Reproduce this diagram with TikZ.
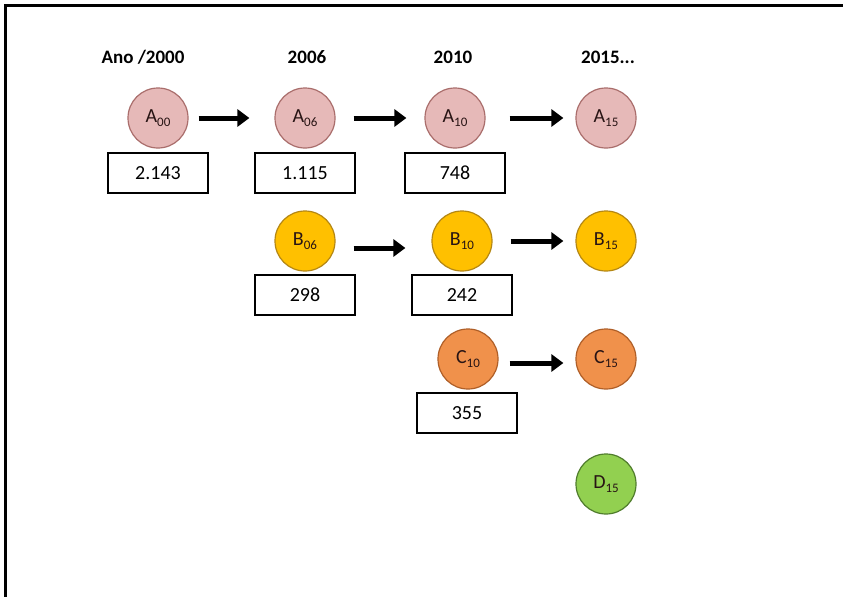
\documentclass[tikz,border=0pt]{standalone}
\usepackage{fontspec}
\setmainfont{Carlito}
\usetikzlibrary{arrows.meta}
\definecolor{pinkf}{RGB}{230,185,184}
\definecolor{pinkd}{RGB}{170,110,108}
\definecolor{goldf}{RGB}{255,192,0}
\definecolor{goldd}{RGB}{180,135,20}
\definecolor{orgf}{RGB}{240,145,75}
\definecolor{orgd}{RGB}{175,95,40}
\definecolor{grnf}{RGB}{146,208,80}
\definecolor{grnd}{RGB}{80,125,45}
\definecolor{txt}{RGB}{40,20,20}
\newcommand{\lbl}[2]{#1\raisebox{-0.22em}{\fontsize{13}{13}\selectfont #2}}
\tikzset{
  circ/.style={circle, minimum size=60pt, inner sep=0pt, line width=1.2pt, font=\fontsize{20}{20}\selectfont, text=txt},
  pk/.style={circ, fill=pinkf, draw=pinkd},
  gd/.style={circ, fill=goldf, draw=goldd},
  og/.style={circ, fill=orgf, draw=orgd},
  gn/.style={circ, fill=grnf, draw=grnd},
  numbox/.style={draw=black, line width=1.8pt, minimum width=100pt, minimum height=40pt, inner sep=0pt, font=\fontsize{20}{20}\selectfont},
  hdr/.style={anchor=base, font=\fontsize{19}{19}\selectfont\bfseries},
  arr/.style={line width=5pt, -{Triangle[length=12pt,width=17pt]}}
}
\begin{document}
\begin{tikzpicture}[x=1pt,y=-1pt]
\useasboundingbox (0,0) rectangle (843,597);
\fill[white] (0,0) rectangle (843,597);
\draw[line width=3pt] (843,5.5) -- (5.5,5.5) -- (5.5,597);
% headers
\node[hdr] (h00) at (143,63) {Ano /2000};
\node[hdr] (h06) at (307,63) {2006};
\node[hdr] (h10) at (453,63) {2010};
\node[hdr] (h15) at (608,63) {2015...};
% circles
\node[pk] (a00) at (158,118) {\lbl{A}{00}};
\node[pk] (a06) at (305,118) {\lbl{A}{06}};
\node[pk] (a10) at (455,118) {\lbl{A}{10}};
\node[pk] (a15) at (606,118) {\lbl{A}{15}};
\node[gd] (b06) at (305,241) {\lbl{B}{06}};
\node[gd] (b10) at (462,241) {\lbl{B}{10}};
\node[gd] (b15) at (606,241) {\lbl{B}{15}};
\node[og] (c10) at (468,359) {\lbl{C}{10}};
\node[og] (c15) at (606,359) {\lbl{C}{15}};
\node[gn] (d15) at (606,484) {\lbl{D}{15}};
% boxes
\node[numbox] (n00) at (158,173) {2.143};
\node[numbox] (n06) at (305,173) {1.115};
\node[numbox] (n10) at (455,173) {748};
\node[numbox] (m06) at (305,295) {298};
\node[numbox] (m10) at (462,295) {242};
\node[numbox] (p10) at (467,413) {355};
% arrows
\draw[arr, shorten <=10pt, shorten >=25pt] (a00) -- (a06);
\draw[arr, shorten <=18pt, shorten >=18pt] (a06) -- (a10);
\draw[arr, shorten <=24pt, shorten >=12pt] (a10) -- (a15);
\draw[arr, shorten <=18pt, shorten >=26pt] ([yshift=-7pt]b06.east) -- ([yshift=-7pt]b10.west);
\draw[arr, shorten <=18pt, shorten >=12pt] (b10) -- (b15);
\draw[arr, shorten <=11pt, shorten >=12pt] ([yshift=-4pt]c10.east) -- ([yshift=-4pt]c15.west);
\end{tikzpicture}
\end{document}
